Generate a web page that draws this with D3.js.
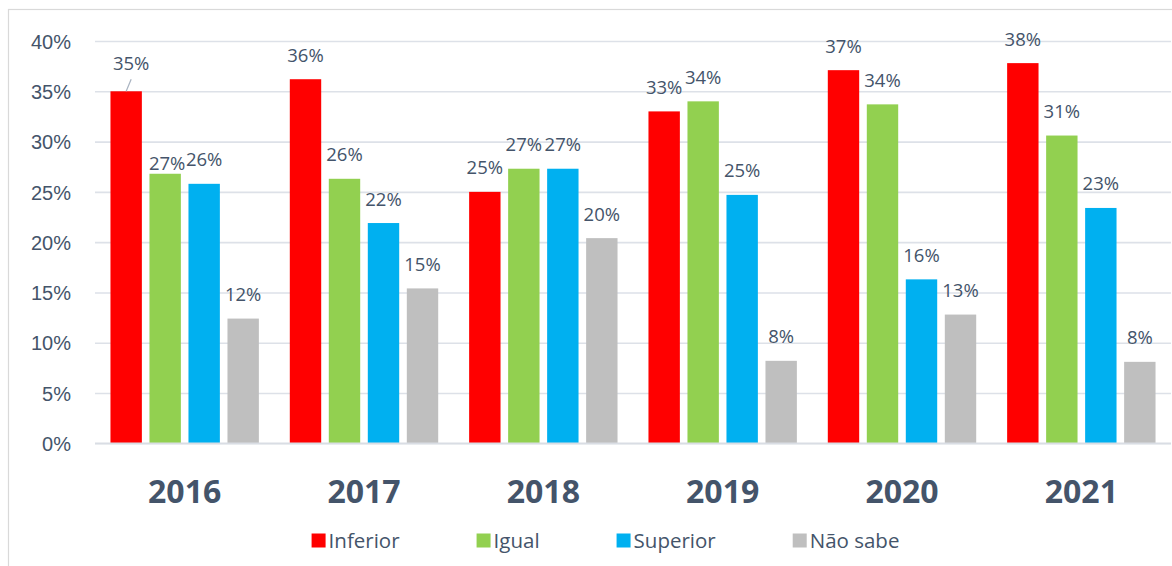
<!DOCTYPE html>
<html>
<head>
<meta charset="utf-8">
<script src="https://cdn.jsdelivr.net/npm/d3@7"></script>
<style>
	html, body { margin: 0; padding: 0; background: #fff; }
	svg { display: block; font-family: "Open Sans", sans-serif; }
	.tick-label { font-size: 20px; fill: #44546a; }
	.bar-label { font-size: 18.5px; fill: #44546a; }
	.year-label { font-size: 32px; font-weight: bold; fill: #44546a; }
	.legend-label { font-size: 20.5px; fill: #44546a; }
</style>
</head>
<body>
<script>
var years = ["2016", "2017", "2018", "2019", "2020", "2021"];
var seriesNames = ["Inferior", "Igual", "Superior", "Não sabe"];
var inferior = [0.350, 0.362, 0.250, 0.330, 0.371, 0.378];
var igual = [0.268, 0.263, 0.273, 0.340, 0.337, 0.306];
var superior = [0.258, 0.219, 0.273, 0.247, 0.163, 0.234];
var naoSabe = [0.124, 0.154, 0.204, 0.082, 0.128, 0.081];
var yTicks = [0, 0.05, 0.10, 0.15, 0.20, 0.25, 0.30, 0.35, 0.40];

var colors = ["#ff0000", "#92d050", "#00b0f0", "#bfbfbf"];
var seriesValues = [inferior, igual, superior, naoSabe];

// labels that Excel pushed off their normal spot
var labelNudge = {
	"2016|Inferior": {dx: 5, dy: -4, leader: true},
	"2016|Igual": {dx: 2, dy: 13.5}
};

var width = 1172,
		height = 566;

var svg = d3.select("body")
	.append("svg")
		.attr("width", width)
		.attr("height", height);

// chart frame
svg.append("rect")
		.attr("x", 8.5)
		.attr("y", 9.5)
		.attr("width", 1400)
		.attr("height", 800)
		.attr("fill", "none")
		.attr("stroke", "#d9d9d9")
		.attr("stroke-width", 1.2);

var plot = {left: 95, right: 1171, top: 41, bottom: 443.3};

var x0 = d3.scaleBand()
		.domain(years)
		.range([plot.left, plot.right])
		.paddingInner(0.1725)
		.paddingOuter(0.08625);

var x1 = d3.scaleBand()
		.domain(seriesNames)
		.range([0, x0.bandwidth()])
		.paddingInner(0.195)
		.paddingOuter(0);

var y = d3.scaleLinear()
		.domain([0, 0.4])
		.range([plot.bottom, plot.top]);

var yAxis = d3.axisLeft(y)
		.tickValues(yTicks)
		.tickFormat(d3.format(".0%"))
		.tickSize(-(plot.right - plot.left))
		.tickPadding(24);

var gy = svg.append("g")
		.attr("transform", "translate(" + plot.left + ",0)")
		.call(yAxis);
gy.select(".domain").remove();
gy.selectAll(".tick line")
		.attr("stroke", "#dde1e8")
		.attr("stroke-width", 1.6);
gy.selectAll(".tick text")
		.attr("class", "tick-label")
		.attr("fill", null)
		.attr("font-size", null)
		.attr("font-family", null)
		.attr("dy", "0.36em");

var rows = [];
years.forEach(function(year, i) {
	seriesNames.forEach(function(name, j) {
		rows.push({year: year, series: name, value: seriesValues[j][i], color: colors[j]});
	});
});

var groups = svg.selectAll("g.year")
	.data(years)
	.enter()
	.append("g")
		.attr("class", "year")
		.attr("transform", function(d) { return "translate(" + x0(d) + ",0)"; });

groups.selectAll("rect")
	.data(function(year) { return rows.filter(function(r) { return r.year === year; }); })
	.enter()
	.append("rect")
		.attr("x", function(d) { return x1(d.series); })
		.attr("y", function(d) { return y(d.value); })
		.attr("width", x1.bandwidth())
		.attr("height", function(d) { return y(0) - y(d.value); })
		.attr("fill", function(d) { return d.color; });

// baseline redrawn over the bars
svg.append("line")
		.attr("x1", plot.left)
		.attr("x2", plot.right)
		.attr("y1", y(0))
		.attr("y2", y(0))
		.attr("stroke", "#d9dde4")
		.attr("stroke-width", 1.8);

groups.selectAll("text.bar-label")
	.data(function(year) { return rows.filter(function(r) { return r.year === year; }); })
	.enter()
	.append("text")
		.attr("class", "bar-label")
		.attr("text-anchor", "middle")
		.attr("x", function(d) {
			var n = labelNudge[d.year + "|" + d.series];
			return x1(d.series) + x1.bandwidth() / 2 + (n ? n.dx : 0);
		})
		.attr("y", function(d) {
			var n = labelNudge[d.year + "|" + d.series];
			return y(d.value) - 17.5 + (n ? n.dy : 0);
		})
		.text(function(d) { return Math.round(d.value * 100) + "%"; });

groups.each(function(year) {
	var g = d3.select(this);
	rows.filter(function(r) { return r.year === year; }).forEach(function(d) {
		var n = labelNudge[d.year + "|" + d.series];
		if(!n || !n.leader) return;
		var cx = x1(d.series) + x1.bandwidth() / 2;
		g.append("line")
				.attr("x1", cx + n.dx)
				.attr("y1", y(d.value) - 12)
				.attr("x2", cx)
				.attr("y2", y(d.value))
				.attr("stroke", "#a9b3c1")
				.attr("stroke-width", 1.2);
	});
});

svg.selectAll("text.year-label")
	.data(years)
	.enter()
	.append("text")
		.attr("class", "year-label")
		.attr("text-anchor", "middle")
		.attr("x", function(d) { return x0(d) + x0.bandwidth() / 2; })
		.attr("y", 503.3)
		.text(function(d) { return d; });

// legend, laid out from the measured text widths
var legend = svg.append("g");
var items = legend.selectAll("g")
	.data(seriesNames)
	.enter()
	.append("g");
items.append("rect")
		.attr("width", 14)
		.attr("height", 14)
		.attr("y", 533.5)
		.attr("fill", function(d, i) { return colors[i]; });
items.append("text")
		.attr("class", "legend-label")
		.attr("x", 17)
		.attr("y", 548.3)
		.text(function(d) { return d; });

var pos = 0, offsets = [];
items.each(function() {
	offsets.push(pos);
	var w = d3.select(this).select("text").node().getComputedTextLength();
	pos += 17 + w + 77;
});
var total = pos - 77;
var start = 605.5 - total / 2;
items.attr("transform", function(d, i) { return "translate(" + (start + offsets[i]) + ",0)"; });
</script>
</body>
</html>
